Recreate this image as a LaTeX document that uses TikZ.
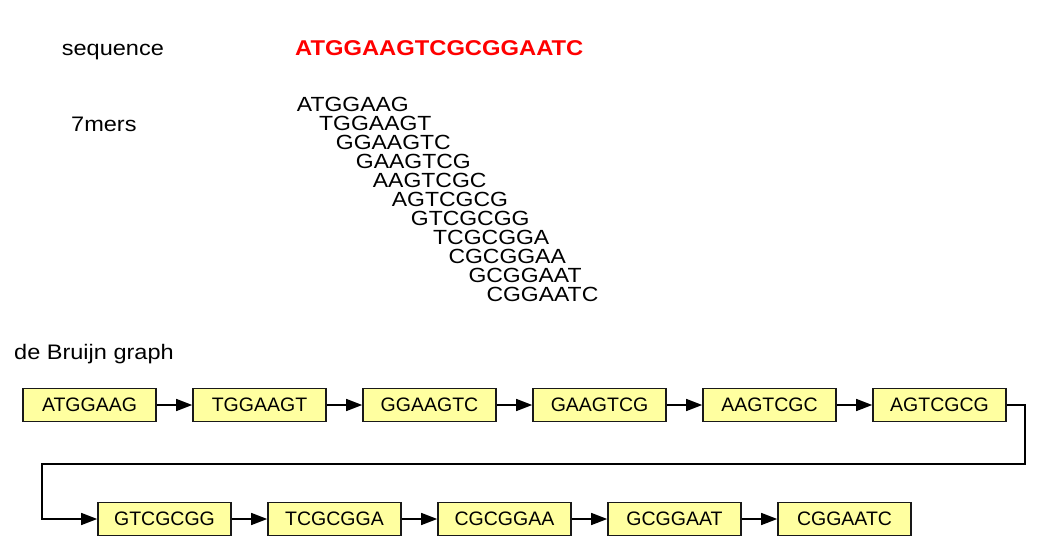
\documentclass[tikz,border=0pt]{standalone}
\usepackage{graphicx}
\usepackage{fontspec}
\setmainfont{Liberation Sans}
\usetikzlibrary{arrows.meta}
\definecolor{boxfill}{RGB}{255,255,160}
\definecolor{seqred}{RGB}{255,0,0}
\definecolor{boxline}{RGB}{25,25,25}
\newcommand{\widetxt}[1]{\scalebox{1.12}[1]{#1}}
\begin{document}
\begin{tikzpicture}[x=1pt,y=-1pt,
  kbox/.style={draw=boxline, line width=1.6pt, fill=boxfill, minimum width=133pt, minimum height=33pt, inner sep=0pt, font=\fontsize{19.5}{23}\selectfont},
  lbl/.style={anchor=base west, inner sep=0pt, font=\fontsize{21}{25}\selectfont},
  kmer/.style={anchor=base west, inner sep=0pt, font=\fontsize{20.5}{24}\selectfont},
  link/.style={line width=1.4pt, -{Triangle[length=16pt,width=12pt]}}
]
\useasboundingbox[fill=white] (0,0) rectangle (1039,556);

% labels
\node[lbl] (lseq) at (61.7,55.7) {\widetxt{sequence}};
\node[lbl, text=seqred, font=\fontsize{21.4}{25}\selectfont\bfseries] (seq) at (295,56) {\scalebox{1.11}[1]{ATGGAAGTCGCGGAATC}};
\node[lbl] (lmer) at (71,131.7) {\widetxt{7mers}};
\node[lbl] (ldb) at (14,359.3) {\widetxt{de Bruijn graph}};

% 7mers
\node[kmer] (k1) at (296.7,111.7) {\widetxt{ATGGAAG}};
\node[kmer] (k2) at (319.0,130.7) {\widetxt{TGGAAGT}};
\node[kmer] (k3) at (335.7,149.7) {\widetxt{GGAAGTC}};
\node[kmer] (k4) at (355.7,168.7) {\widetxt{GAAGTCG}};
\node[kmer] (k5) at (372.7,187.7) {\widetxt{AAGTCGC}};
\node[kmer] (k6) at (391.7,206.7) {\widetxt{AGTCGCG}};
\node[kmer] (k7) at (410.7,225.7) {\widetxt{GTCGCGG}};
\node[kmer] (k8) at (433.0,244.7) {\widetxt{TCGCGGA}};
\node[kmer] (k9) at (448.3,263.7) {\widetxt{CGCGGAA}};
\node[kmer] (k10) at (468.3,282.7) {\widetxt{GCGGAAT}};
\node[kmer] (k11) at (486.3,301.7) {\widetxt{CGGAATC}};

% graph nodes
\node[kbox] (b1) at (89.5,405) {ATGGAAG};
\node[kbox] (b2) at (259.5,405) {TGGAAGT};
\node[kbox] (b3) at (429.5,405) {GGAAGTC};
\node[kbox] (b4) at (599.5,405) {GAAGTCG};
\node[kbox] (b5) at (769.5,405) {AAGTCGC};
\node[kbox] (b6) at (939.5,405) {AGTCGCG};
\node[kbox] (b7) at (164.5,519) {GTCGCGG};
\node[kbox] (b8) at (334.5,519) {TCGCGGA};
\node[kbox] (b9) at (504.5,519) {CGCGGAA};
\node[kbox] (b10) at (674.5,519) {GCGGAAT};
\node[kbox] (b11) at (844.5,519) {CGGAATC};

% edges
\draw[link] (b1) -- (b2);
\draw[link] (b2) -- (b3);
\draw[link] (b3) -- (b4);
\draw[link] (b4) -- (b5);
\draw[link] (b5) -- (b6);
\coordinate (t1) at (1025,464);
\coordinate (t2) at (42,464);
\draw[link] (b6.east) -| (t1) -- (t2) |- (b7.west);
\draw[link] (b7) -- (b8);
\draw[link] (b8) -- (b9);
\draw[link] (b9) -- (b10);
\draw[link] (b10) -- (b11);
\end{tikzpicture}
\end{document}
